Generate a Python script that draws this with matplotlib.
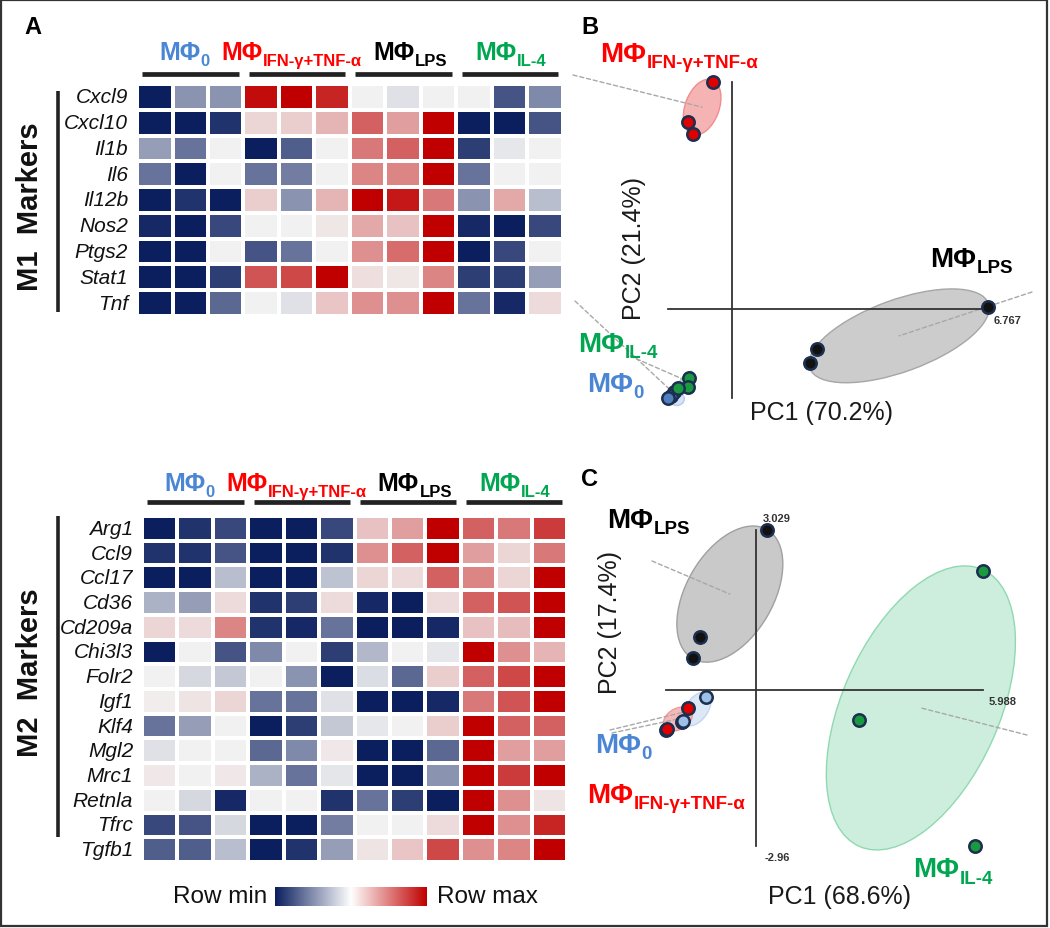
import matplotlib
matplotlib.use('Agg')
import matplotlib.pyplot as plt
import numpy as np
from matplotlib.colors import LinearSegmentedColormap
from matplotlib.patches import Ellipse, Rectangle
from matplotlib.transforms import ScaledTranslation, blended_transform_factory

# ---------------- data ----------------
group_main = 'MΦ'
group_subs = ['0', 'IFN-γ+TNF-α', 'LPS', 'IL-4']
group_colors = ['#4a86d4', '#ff0000', '#000000', '#00a650']

m1_genes = ['Cxcl9', 'Cxcl10', 'Il1b', 'Il6', 'Il12b', 'Nos2', 'Ptgs2', 'Stat1', 'Tnf']
m1_values = [
    [-1.0, -0.45, -0.45, 0.95, 1.0, 0.85, 0.0, -0.08, 0.0, 0.0, -0.75, -0.5],
    [-1.0, -1.0, -0.9, 0.12, 0.15, 0.25, 0.6, 0.35, 1.0, -1.0, -1.0, -0.75],
    [-0.4, -0.6, 0.0, -1.0, -0.7, 0.0, 0.5, 0.6, 1.0, -0.85, -0.05, 0.0],
    [-0.6, -1.0, 0.0, -0.6, -0.55, 0.0, 0.45, 0.45, 1.0, -0.6, 0.0, 0.0],
    [-1.0, -0.9, -1.0, 0.15, -0.45, 0.25, 1.0, 0.9, 0.5, -0.45, 0.3, -0.25],
    [-0.95, -1.0, -0.8, 0.0, 0.0, 0.05, 0.3, 0.2, 1.0, -0.95, -1.0, -0.8],
    [-1.0, -1.0, 0.0, -0.75, -0.6, 0.0, 0.4, 0.55, 1.0, -1.0, -0.8, 0.0],
    [-1.0, -1.0, -0.85, 0.65, 0.7, 1.0, 0.08, 0.05, 0.45, -0.85, -0.85, -0.4],
    [-1.0, -1.0, -0.65, 0.0, -0.08, 0.18, 0.4, 0.4, 1.0, -0.6, -0.95, 0.1],
]

m2_genes = ['Arg1', 'Ccl9', 'Ccl17', 'Cd36', 'Cd209a', 'Chi3l3', 'Folr2', 'Igf1',
            'Klf4', 'Mgl2', 'Mrc1', 'Retnla', 'Tfrc', 'Tgfb1']
m2_values = [
    [-1.0, -0.9, -0.8, -1.0, -1.0, -0.8, 0.2, 0.35, 1.0, 0.6, 0.5, 0.75],
    [-0.9, -0.9, -0.75, -1.0, -1.0, -0.9, 0.4, 0.6, 1.0, 0.35, 0.12, 0.5],
    [-1.0, -1.0, -0.25, -1.0, -1.0, -0.22, 0.12, 0.1, 0.6, 0.45, 0.12, 1.0],
    [-0.3, -0.4, 0.1, -0.9, -0.85, 0.1, -0.95, -1.0, 0.1, 0.6, 0.65, 1.0],
    [0.12, 0.1, 0.45, -0.9, -0.95, -0.6, -1.0, -1.0, -0.95, 0.2, 0.22, 1.0],
    [-1.0, 0.0, -0.75, -0.5, 0.0, -0.85, -0.28, 0.0, -0.05, 1.0, 0.4, 0.25],
    [0.0, -0.12, -0.2, 0.0, -0.45, -1.0, -0.1, -0.65, 0.15, 0.6, 0.7, 1.0],
    [0.02, 0.06, 0.12, -0.6, -0.6, -0.08, -1.0, -1.0, -0.95, 0.5, 0.65, 1.0],
    [-0.6, -0.4, 0.0, -1.0, -0.85, -0.2, -0.05, 0.0, 0.15, 1.0, 0.6, 0.6],
    [-0.08, 0.0, 0.0, -0.65, -0.5, 0.04, -1.0, -1.0, -0.65, 1.0, 0.35, 0.35],
    [0.04, 0.0, 0.04, -0.3, -0.6, -0.06, -1.0, -1.0, -0.45, 1.0, 0.75, 1.0],
    [0.0, -0.12, -0.95, 0.0, 0.0, -0.9, -0.6, -0.85, -1.0, 1.0, 0.4, 0.06],
    [-0.8, -0.75, -0.12, -1.0, -1.0, -0.55, 0.0, 0.0, 0.1, 1.0, 0.4, 0.85],
    [-0.7, -0.7, -0.25, -1.0, -0.9, -0.4, 0.06, 0.18, 0.7, 0.4, 0.45, 1.0],
]

# PCA scores (PC1, PC2) per group, panel B (M1 markers)
b_m0 = [(-1.53, -2.20), (-1.61, -2.30), (-1.69, -2.35)]
b_ifn = [(-0.50, 6.01), (-1.16, 4.95), (-1.03, 4.63)]
b_lps = [(6.767, 0.05), (2.25, -1.06), (2.06, -1.43)]
b_il4 = [(-1.14, -1.83), (-1.16, -2.06), (-1.43, -2.09)]
b_pc_labels = ['PC1 (70.2%)', 'PC2 (21.4%)']
b_value_labels = ['6.767']

# panel C (M2 markers)
c_m0 = [(-1.32, -0.13), (-1.95, -0.61), (-1.93, -0.58)]
c_ifn = [(-1.79, -0.34), (-2.37, -0.76), (-2.35, -0.74)]
c_lps = [(0.29, 3.029), (-1.48, 1.01), (-1.66, 0.61)]
c_il4 = [(5.988, 2.26), (2.72, -0.57), (5.78, -2.96)]
c_pc_labels = ['PC1 (68.6%)', 'PC2 (17.4%)']
c_value_labels = ['3.029', '5.988', '-2.96']

# ---------------- figure ----------------
W, H = 1050, 929
plt.rcParams['font.family'] = ['Liberation Sans', 'DejaVu Sans']
fig = plt.figure(figsize=(W / 100, H / 100), dpi=100)


def rect(x0, y0, x1, y1):
    return [x0 / W, 1 - y1 / H, (x1 - x0) / W, (y1 - y0) / H]


def fx(x):
    return x / W


def fy(y):
    return 1 - y / H


cmap = LinearSegmentedColormap.from_list('rb', ['#0b1f5f', '#f2f2f2', '#c00000'])
cmap_cb = LinearSegmentedColormap.from_list('rbw', ['#0b1f5f', '#ffffff', '#c00000'])


def glabel(x_px, base_px, sub, color, s1, s2, dy, align='center'):
    r = fig.canvas.get_renderer()
    t1 = fig.text(0, 0, group_main, fontsize=s1, fontweight='bold', color=color,
                  va='baseline', ha='left')
    t2 = fig.text(0, 0, sub, fontsize=s2, fontweight='bold', color=color,
                  va='baseline', ha='left')
    w1 = t1.get_window_extent(r).width
    w2 = t2.get_window_extent(r).width
    x0 = x_px - (w1 + w2) / 2 if align == 'center' else x_px
    t1.set_position((fx(x0), fy(base_px)))
    t2.set_position((fx(x0 + w1 + 0.5), fy(base_px + dy)))


label_shift = [-6, -5, 7, 1]


def heatmap(box, genes, values, base_px, bar_px, line_y, title, title_y):
    ax = fig.add_axes(rect(*box))
    v = np.array(values)
    ax.pcolormesh(v, cmap=cmap, vmin=-1, vmax=1, edgecolors='white', linewidth=1.5)
    ax.set_xlim(0, v.shape[1])
    ax.set_ylim(v.shape[0], 0)
    ax.axis('off')
    for i, g in enumerate(genes):
        ax.text(-0.25, i + 0.5, g, ha='right', va='center', style='italic',
                fontsize=15, color='#111111')
    blend = blended_transform_factory(ax.transData, fig.transFigure)
    for g in range(4):
        ax.plot([3 * g + 0.15, 3 * g + 2.87], [fy(bar_px)] * 2, transform=blend,
                color='#222222', lw=3.4, solid_capstyle='butt', clip_on=False)
        xc = ax.transData.transform((3 * g + 1.5, 0))[0] + label_shift[g]
        glabel(xc, base_px, group_subs[g], group_colors[g], 18, 12, 6)
    fig.add_artist(plt.Line2D([fx(58), fx(58)], [fy(line_y[0]), fy(line_y[1])],
                              color='#222222', lw=2.6, solid_capstyle='butt'))
    fig.text(fx(30), fy(title_y), title, rotation=90, fontsize=21, fontweight='bold',
             ha='center', va='center', color='#111111')
    return ax


heatmap((137, 85, 563, 317), m1_genes, m1_values, 60, 75, (92, 313), 'M1  Markers', 207)
heatmap((142, 517, 567, 863), m2_genes, m2_values, 491, 503, (517, 838), 'M2  Markers', 673)

# colorbar
axcb = fig.add_axes(rect(275, 888, 427, 907))
axcb.imshow(np.linspace(-1, 1, 256)[None, :], aspect='auto', cmap=cmap_cb)
axcb.axis('off')
fig.text(fx(267), fy(903), 'Row min', ha='right', va='baseline', fontsize=17.5, color='#111111')
fig.text(fx(437), fy(903), 'Row max', ha='left', va='baseline', fontsize=17.5, color='#111111')

# panel letters
for s, (x, y) in zip(['A', 'B', 'C'], [(33, 28), (590, 27), (590, 480)]):
    fig.text(fx(x), fy(y), s, fontsize=17, fontweight='bold', ha='center', va='center')


def pca_axes(box, ox, oy, sx, sy):
    ax = fig.add_axes(rect(*box))
    x0, y0, x1, y1 = box
    ax.set_xlim((x0 - ox) / sx, (x1 - ox) / sx)
    ax.set_ylim((oy - y1) / sy, (oy - y0) / sy)
    ax.axis('off')
    return ax


def ell(ax, c, w_px, h_px, ang, fc, ec):
    tr = fig.dpi_scale_trans + ScaledTranslation(c[0], c[1], ax.transData)
    ax.add_patch(Ellipse((0, 0), w_px / 100, h_px / 100, angle=ang, transform=tr,
                         facecolor=fc, edgecolor=ec, lw=1.0, zorder=1))


def lead(ax, pt, px):
    ax.annotate('', xy=pt, xycoords='data', xytext=(fx(px[0]), fy(px[1])),
                textcoords='figure fraction',
                arrowprops=dict(arrowstyle='-', color='#a8a8a8', lw=1.0, ls=(0, (3, 2)),
                                shrinkA=0, shrinkB=0), zorder=2)


def pts(ax, data, color):
    a = np.array(data)
    ax.scatter(a[:, 0], a[:, 1], s=80, c=color, edgecolors='#1c2f4f', linewidths=1.8,
               zorder=6)


def axes_lines(ax, groups):
    a = np.vstack([np.array(g) for g in groups])
    ax.plot([0, 0], [a[:, 1].min(), a[:, 1].max()], color='#333333', lw=1.3, zorder=3)
    ax.plot([a[:, 0].min(), a[:, 0].max()], [0, 0], color='#333333', lw=1.3, zorder=3)


# ---------- panel B ----------
axb = pca_axes((565, 5, 1045, 445), 732, 310, 37.8, 37.8)
axes_lines(axb, [b_m0, b_ifn, b_lps, b_il4])
ell(axb, (-0.79, 5.34), 58, 34, 70, '#f6b3b3', '#f08c8c')
ell(axb, (4.42, -0.71), 190, 72, 20, '#cccccc', '#a6a6a6')
ell(axb, (-1.46, -2.38), 15, 13, 0, '#d6e4f6', '#b3cbee')
ell(axb, (-1.27, -1.96), 28, 9, 55, '#cdeedb', '#8fd6ac')
lead(axb, (-0.79, 5.34), (573, 76))
lead(axb, (4.42, -0.71), (1032, 293))
lead(axb, (-1.55, -2.22), (575, 302))
lead(axb, (-1.2, -1.9), (630, 357))
pts(axb, b_lps, '#111111')
pts(axb, b_ifn, '#e00000')
pts(axb, b_m0, '#4f7fbf')
pts(axb, b_il4, '#1a9a40')
fig.text(fx(1008), fy(321), b_value_labels[0], fontsize=8, fontweight='bold',
         ha='center', va='center', color='#333333')
fig.text(fx(822), fy(413), b_pc_labels[0], fontsize=18, ha='center', va='center', color='#1a1a1a')
fig.text(fx(634), fy(249), b_pc_labels[1], fontsize=18, rotation=90, ha='center',
         va='center', color='#1a1a1a')
glabel(600, 62, group_subs[1], group_colors[1], 20, 13.5, 6, align='left')
glabel(930, 267, group_subs[2], group_colors[2], 20, 13.5, 6, align='left')
glabel(578, 352, group_subs[3], group_colors[3], 20, 13.5, 6, align='left')
glabel(587, 392, group_subs[0], group_colors[0], 20, 13.5, 6, align='left')

# ---------- panel C ----------
axc = pca_axes((565, 465, 1045, 925), 756, 691, 37.9, 52.7)
axes_lines(axc, [c_m0, c_ifn, c_lps, c_il4])
ell(axc, (-0.69, 1.82), 149, 87, 60, '#c9c9c9', '#a0a0a0')
ell(axc, (4.35, -0.34), 303, 157, 66, '#cdeedd', '#8fd9b0')
ell(axc, (-1.56, -0.36), 38, 22, 55, '#dce8f6', '#c2d6f0')
ell(axc, (-2.06, -0.55), 31, 21, 30, '#f6b8b8', '#f29a9a')
lead(axc, (-0.69, 1.82), (652, 562))
lead(axc, (4.35, -0.34), (1027, 736))
lead(axc, (-1.56, -0.36), (610, 731))
lead(axc, (-2.06, -0.55), (612, 734))
pts(axc, c_lps, '#111111')
pts(axc, c_il4, '#1a9a40')
pts(axc, c_ifn, '#e00000')
pts(axc, c_m0, '#9cc0e8')
for s, (x, y) in zip(c_value_labels, [(777, 519), (1003, 702), (777, 858)]):
    fig.text(fx(x), fy(y), s, fontsize=8, fontweight='bold', ha='center', va='center',
             color='#333333')
fig.text(fx(839), fy(897), c_pc_labels[0], fontsize=18, ha='center', va='center', color='#1a1a1a')
fig.text(fx(610), fy(623), c_pc_labels[1], fontsize=18, rotation=90, ha='center',
         va='center', color='#1a1a1a')
glabel(607, 528, group_subs[2], group_colors[2], 20, 13.5, 6, align='left')
glabel(595, 753, group_subs[0], group_colors[0], 20, 13.5, 6, align='left')
glabel(587, 803, group_subs[1], group_colors[1], 20, 13.5, 6, align='left')
glabel(913, 877, group_subs[3], group_colors[3], 20, 13.5, 7, align='left')

# outer frame
fig.add_artist(Rectangle((fx(1), fy(927)), (1046) / W, 926 / H, transform=fig.transFigure,
                         fill=False, edgecolor='#333333', lw=1.6))

fig.savefig('out.png', dpi=100)
